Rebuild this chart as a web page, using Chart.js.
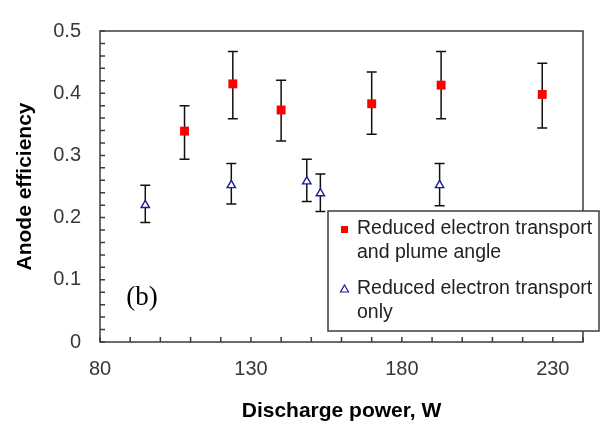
<!DOCTYPE html>
<html>
<head>
<meta charset="utf-8">
<script src="https://cdn.jsdelivr.net/npm/chart.js@4.4.1/dist/chart.umd.min.js"></script>
<style>
  html, body { margin: 0; padding: 0; background: #fff; }
  #wrap { width: 603px; height: 426px; }
</style>
</head>
<body>
<div id="wrap"><canvas id="myChart" width="603" height="426"></canvas></div>
<script>
// data: discharge power (W) vs anode efficiency, with error bar ends
var powerA = [108, 124, 140, 170, 193, 226.5];
var effA   = [0.339, 0.415, 0.373, 0.383, 0.413, 0.398];
var loA    = [0.294, 0.359, 0.323, 0.334, 0.359, 0.344];
var hiA    = [0.380, 0.467, 0.421, 0.434, 0.467, 0.448];

var powerB = [95, 123.5, 148.5, 153, 192.5];
var effB   = [0.220, 0.252, 0.258, 0.239, 0.252];
var loB    = [0.192, 0.222, 0.226, 0.210, 0.219];
var hiB    = [0.252, 0.287, 0.294, 0.270, 0.287];

var labelA = ["Reduced electron transport", "and plume angle"];
var labelB = ["Reduced electron transport", "only"];
var xLabels = [80, 130, 180, 230];
var yLabels = [0, 0.1, 0.2, 0.3, 0.4, 0.5];

var sans = "'Liberation Sans', Arial, sans-serif";

function pts(xs, ys) {
    var out = [];
    for (var i = 0; i < xs.length; i++) out.push({x: xs[i], y: ys[i]});
    return out;
}

// error bars go under the markers
var errorBars = {
    id: 'errorBars',
    beforeDatasetsDraw: function (chart) {
        var ctx = chart.ctx, xs = chart.scales.x, ys = chart.scales.y;
        var sets = [[powerA, loA, hiA], [powerB, loB, hiB]];
        ctx.save();
        ctx.strokeStyle = '#111';
        ctx.lineWidth = 1.5;
        sets.forEach(function (s) {
            for (var i = 0; i < s[0].length; i++) {
                var px = xs.getPixelForValue(s[0][i]);
                var y1 = ys.getPixelForValue(s[1][i]);
                var y2 = ys.getPixelForValue(s[2][i]);
                ctx.beginPath();
                ctx.moveTo(px, y1); ctx.lineTo(px, y2);
                ctx.moveTo(px - 5, y1); ctx.lineTo(px + 5, y1);
                ctx.moveTo(px - 5, y2); ctx.lineTo(px + 5, y2);
                ctx.stroke();
            }
        });
        ctx.restore();
    }
};

// frame, inward tick marks, legend box and the panel tag
var decor = {
    id: 'decor',
    afterDraw: function (chart) {
        var ctx = chart.ctx, a = chart.chartArea;
        var xs = chart.scales.x, ys = chart.scales.y;
        ctx.save();
        ctx.strokeStyle = '#3c3c3c';
        ctx.lineWidth = 1.5;
        ctx.strokeRect(a.left, a.top, a.right - a.left, a.bottom - a.top);
        ctx.beginPath();
        xs.ticks.forEach(function (t) {
            var p = xs.getPixelForValue(t.value);
            ctx.moveTo(p, a.bottom); ctx.lineTo(p, a.bottom - 5);
        });
        ys.ticks.forEach(function (t) {
            var p = ys.getPixelForValue(t.value);
            ctx.moveTo(a.left, p); ctx.lineTo(a.left + 5, p);
        });
        ctx.stroke();

        // legend
        var bx = 328, by = 211, bw = 271, bh = 120;
        ctx.fillStyle = '#fff';
        ctx.fillRect(bx, by, bw, bh);
        ctx.strokeRect(bx, by, bw, bh);
        ctx.fillStyle = '#ff0000';
        ctx.fillRect(341, 226, 7, 7);
        ctx.beginPath();
        ctx.moveTo(344.5, 285); ctx.lineTo(348.5, 292); ctx.lineTo(340.5, 292); ctx.closePath();
        ctx.strokeStyle = '#1c1c9a';
        ctx.lineWidth = 1.2;
        ctx.stroke();
        ctx.fillStyle = '#222';
        ctx.font = "19.5px " + sans;
        ctx.textBaseline = 'middle';
        ctx.textAlign = 'left';
        ctx.fillText(labelA[0], 357, 229);
        ctx.fillText(labelA[1], 357, 253);
        ctx.fillText(labelB[0], 357, 289);
        ctx.fillText(labelB[1], 357, 313);

        ctx.fillStyle = '#000';
        ctx.font = "27px 'Liberation Serif', 'Times New Roman', serif";
        ctx.textAlign = 'center';
        ctx.fillText('(b)', 142, 298);
        ctx.restore();
    }
};

var ctx = document.getElementById('myChart').getContext('2d');
var myChart = new Chart(ctx, {
    type: 'scatter',
    data: {
        datasets: [{
            label: labelA.join(' '),
            data: pts(powerA, effA),
            pointStyle: 'rect',
            pointRadius: 6.3,
            backgroundColor: '#ff0000',
            borderColor: '#ff0000',
            borderWidth: 0
        }, {
            label: labelB.join(' '),
            data: pts(powerB, effB),
            pointStyle: 'triangle',
            pointRadius: 4.8,
            backgroundColor: '#ffffff',
            borderColor: '#1c1c9a',
            borderWidth: 1.4
        }]
    },
    options: {
        responsive: false,
        animation: false,
        devicePixelRatio: 1,
        layout: { padding: { top: 22, right: 20, left: 0, bottom: 0 } },
        plugins: { legend: { display: false }, tooltip: { enabled: false } },
        scales: {
            x: {
                type: 'linear',
                min: 80, max: 240,
                afterFit: function (s) { s.height = 84; },
                grid: { display: false, drawTicks: false },
                border: { display: false },
                ticks: {
                    stepSize: 10,
                    autoSkip: false,
                    maxRotation: 0,
                    padding: 15,
                    color: '#383838',
                    font: { family: sans, size: 20 },
                    callback: function (v) { return xLabels.indexOf(v) >= 0 ? String(v) : ''; }
                },
                title: {
                    display: true,
                    text: 'Discharge power, W',
                    color: '#000',
                    font: { family: sans, size: 21, weight: 'bold' },
                    padding: { top: 0, bottom: 2 }
                }
            },
            y: {
                min: 0, max: 0.5,
                afterFit: function (s) { s.width = 100; },
                grid: { display: false, drawTicks: false },
                border: { display: false },
                ticks: {
                    stepSize: 0.02,
                    autoSkip: false,
                    padding: 19,
                    color: '#383838',
                    font: { family: sans, size: 20 },
                    callback: function (v) {
                        for (var i = 0; i < yLabels.length; i++) {
                            if (Math.abs(v - yLabels[i]) < 1e-6) return yLabels[i] === 0 ? '0' : yLabels[i].toFixed(1);
                        }
                        return '';
                    }
                },
                title: {
                    display: true,
                    text: 'Anode efficiency',
                    color: '#000',
                    font: { family: sans, size: 21, weight: 'bold' },
                    padding: { top: 13, bottom: 0 }
                }
            }
        }
    },
    plugins: [errorBars, decor]
});
</script>
</body>
</html>
